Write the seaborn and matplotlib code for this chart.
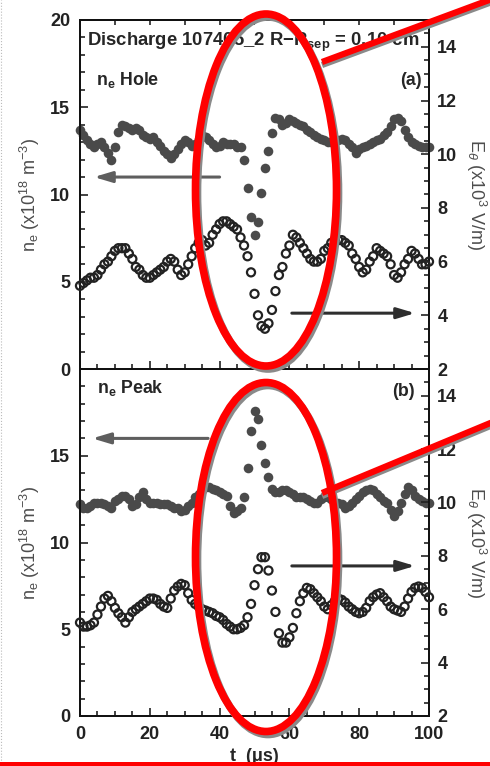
import matplotlib
matplotlib.use("Agg")
import matplotlib.pyplot as plt
import seaborn as sns
from matplotlib.patches import Ellipse, Rectangle
from matplotlib.lines import Line2D
from matplotlib.ticker import MultipleLocator

# ---- data: time base and the two probe signals for each case ----
t_us = list(range(101))

ne_hole = [13.7, 13.4, 13.1, 12.9, 12.7, 12.9, 13.0, 12.7, 12.4, 12.0,
           12.7, 13.6, 14.0, 13.9, 13.8, 13.7, 13.8, 13.7, 13.4, 13.3,
           13.2, 13.3, 13.0, 12.8, 12.5, 12.3, 12.1, 12.3, 12.6, 12.9,
           13.1, 13.0, 12.8, 12.9, 13.2, 13.4, 13.3, 13.1, 12.9, 12.7,
           12.8, 13.0, 12.9, 12.9, 12.9, 12.7, 12.7, 12.0, 10.4, 8.7,
           7.7, 8.4, 10.1, 11.5, 12.5, 13.5, 14.4, 14.3, 14.0, 14.1,
           14.3, 14.2, 14.1, 14.0, 13.9, 13.7, 13.6, 13.4, 13.3, 13.2,
           13.1, 13.0, 13.0, 13.1, 13.1, 13.2, 13.1, 12.9, 12.7, 12.4,
           12.6, 12.7, 12.8, 12.9, 13.0, 13.1, 13.2, 13.4, 13.6, 13.9,
           14.3, 14.4, 14.2, 13.7, 13.3, 13.0, 12.9, 12.8, 12.7, 12.7, 12.7]

e_theta_hole = [5.1, 5.2, 5.3, 5.4, 5.4, 5.5, 5.7, 5.9, 6.0, 6.2,
                6.4, 6.5, 6.5, 6.5, 6.3, 6.1, 5.8, 5.7, 5.5, 5.4,
                5.4, 5.5, 5.6, 5.7, 5.8, 6.0, 6.1, 6.0, 5.7, 5.5,
                5.6, 5.9, 6.2, 6.5, 6.7, 6.8, 6.6, 6.7, 7.0, 7.2,
                7.4, 7.5, 7.5, 7.4, 7.3, 7.2, 6.9, 6.6, 6.2, 5.6,
                4.8, 4.0, 3.6, 3.5, 3.7, 4.2, 4.9, 5.5, 5.8, 6.3,
                6.6, 7.0, 6.9, 6.7, 6.5, 6.3, 6.1, 6.0, 6.0, 6.1,
                6.4, 6.5, 6.7, 6.8, 6.8, 6.8, 6.7, 6.6, 6.3, 6.1,
                5.8, 5.6, 5.7, 6.0, 6.2, 6.5, 6.4, 6.3, 6.2, 5.9,
                5.5, 5.4, 5.6, 5.9, 6.1, 6.4, 6.3, 6.1, 5.9, 5.9, 6.0]

ne_peak = [12.2, 12.0, 12.0, 12.1, 12.3, 12.3, 12.3, 12.2, 12.1, 12.0,
           12.4, 12.5, 12.7, 12.7, 12.5, 12.1, 12.2, 12.6, 12.9, 12.5,
           12.3, 12.3, 12.3, 12.2, 12.2, 12.2, 12.1, 12.0, 12.0, 11.8,
           11.9, 12.1, 12.3, 12.6, 12.8, 13.0, 13.2, 13.2, 13.1, 13.0,
           12.9, 12.8, 12.7, 12.1, 11.7, 11.8, 12.0, 12.6, 14.3, 16.4,
           17.6, 17.1, 15.6, 14.6, 13.8, 13.1, 12.9, 12.9, 13.0, 13.0,
           12.9, 12.8, 12.6, 12.6, 12.6, 12.5, 12.4, 12.3, 12.3, 12.5,
           12.6, 12.6, 12.5, 12.3, 12.3, 12.2, 12.0, 12.1, 12.3, 12.5,
           12.7, 12.9, 13.0, 13.1, 13.0, 12.8, 12.6, 12.4, 12.3, 11.9,
           11.5, 11.8, 12.3, 12.8, 13.2, 13.0, 12.7, 12.5, 12.4, 12.3, 12.3]

e_theta_peak = [5.5, 5.35, 5.35, 5.4, 5.5, 5.8, 6.1, 6.4, 6.5, 6.3,
                6.05, 5.85, 5.7, 5.5, 5.7, 5.9, 6.0, 6.1, 6.2, 6.3,
                6.4, 6.4, 6.35, 6.2, 6.1, 6.05, 6.4, 6.7, 6.85, 6.95,
                6.9, 6.6, 6.35, 6.2, 6.1, 6.0, 5.95, 5.9, 5.85, 5.75,
                5.7, 5.6, 5.45, 5.35, 5.25, 5.25, 5.3, 5.4, 5.7, 6.2,
                6.9, 7.5, 7.95, 7.95, 7.45, 6.7, 5.9, 5.1, 4.75, 4.75,
                4.95, 5.3, 5.85, 6.3, 6.6, 6.8, 6.75, 6.6, 6.45, 6.3,
                6.1, 6.0, 6.15, 6.3, 6.4, 6.35, 6.25, 6.1, 6.0, 5.9,
                5.85, 5.9, 6.05, 6.3, 6.45, 6.55, 6.6, 6.45, 6.3, 6.1,
                6.0, 5.95, 5.9, 6.1, 6.4, 6.65, 6.8, 6.85, 6.8, 6.65, 6.45]

x_ticks = [0, 20, 40, 60, 80, 100]
ne_ticks_top = [0, 5, 10, 15, 20]
ne_ticks_bottom = [0, 5, 10, 15]
e_ticks = [2, 4, 6, 8, 10, 12, 14]

# ---- style ----
sns.set_style("ticks")
plt.rcParams["font.family"] = ["Liberation Sans", "DejaVu Sans"]
plt.rcParams["mathtext.fontset"] = "custom"
plt.rcParams["mathtext.rm"] = "Liberation Sans"
plt.rcParams["mathtext.it"] = "Liberation Sans:italic"
plt.rcParams["mathtext.bf"] = "Liberation Sans:bold"

W, H = 490, 766
fig = plt.figure(figsize=(W / 100, H / 100), dpi=100)


def fx(px):
    return px / W


def fy(py):
    return 1 - py / H


LEFT, RIGHT = 80, 429
ax_a = fig.add_axes([fx(LEFT), fy(369), fx(RIGHT) - fx(LEFT), fy(20) - fy(369)])
ax_b = fig.add_axes([fx(LEFT), fy(716), fx(RIGHT) - fx(LEFT), fy(369) - fy(716)],
                    sharex=ax_a)

FILL = "#4a4a4a"
OPEN = "#222222"
SPINE_LW = 1.3
TICK_FS = 13


def draw_panel(ax, ne, et, ne_ticks):
    axr = ax.twinx()
    sns.scatterplot(x=t_us, y=ne, ax=ax, color=FILL, s=48, linewidth=0,
                    clip_on=False, zorder=3)
    sns.scatterplot(x=t_us, y=et, ax=axr, color=OPEN, s=34, linewidth=1.6,
                    clip_on=False, zorder=3)
    pts = axr.collections[-1]
    pts.set_facecolor("none")
    pts.set_edgecolor(OPEN)

    ax.set_xlim(0, 100)
    ax.set_ylim(0, 20)
    axr.set_ylim(2, 15)

    ax.set_yticks(ne_ticks, labels=[str(v) for v in ne_ticks],
                  fontweight="bold", fontsize=TICK_FS)
    ax.yaxis.set_minor_locator(MultipleLocator(1))
    ax.set_xticks(x_ticks, labels=[str(v) for v in x_ticks],
                  fontweight="bold", fontsize=TICK_FS)
    ax.xaxis.set_minor_locator(MultipleLocator(5))
    ax.tick_params(which="both", direction="in", left=True, right=False,
                   top=False, bottom=True, width=1.2, pad=7, colors="#222")
    ax.tick_params(which="major", length=5.5)
    ax.tick_params(which="minor", length=3.5)

    axr.set_yticks(e_ticks, labels=[str(v) for v in e_ticks],
                   fontweight="bold", fontsize=TICK_FS)
    axr.yaxis.set_minor_locator(MultipleLocator(0.5))
    axr.tick_params(which="both", direction="in", right=True, left=False,
                    width=1.2, pad=6, colors="#222")
    axr.tick_params(which="major", length=5.5)
    axr.tick_params(which="minor", length=3.5)

    for a in (ax, axr):
        for sp in a.spines.values():
            sp.set_linewidth(SPINE_LW)
            sp.set_color("#111")
            sp.set_visible(True)

    ax.set_ylabel(r"n$_\mathrm{e}$ (x10$^\mathrm{18}$ m$^\mathrm{-3}$)",
                  fontsize=13, color="#4d4d4d", labelpad=6)
    axr.set_ylabel(r"E$_\theta$ (x10$^\mathrm{3}$ V/m)", fontsize=13,
                   color="#4d4d4d", rotation=270, va="bottom", labelpad=5)
    return axr


axr_a = draw_panel(ax_a, ne_hole, e_theta_hole, ne_ticks_top)
axr_b = draw_panel(ax_b, ne_peak, e_theta_peak, ne_ticks_bottom)

ax_a.tick_params(labelbottom=False)
ax_a.set_xlabel("")
top_ticks = ax_a.secondary_xaxis("top")
top_ticks.set_xticks(list(range(0, 101, 10)))
top_ticks.tick_params(direction="in", length=3.5, width=1.2, labeltop=False)
top_ticks.spines["top"].set_linewidth(SPINE_LW)

ax_b.set_xlabel(r"t  (μs)", fontsize=13, fontweight="bold", labelpad=4)

# ---- panel annotations ----
ax_a.text(0.02, 0.937, r"Discharge 107405_2 R−R$_\mathbf{sep}$ = 0.10 cm",
          transform=ax_a.transAxes, fontsize=13.3, fontweight="bold",
          va="center", ha="left")
ax_a.text(0.045, 0.828, r"n$_\mathbf{e}$ Hole", transform=ax_a.transAxes,
          fontsize=12.8, fontweight="bold", va="center", ha="left")
ax_a.text(0.98, 0.828, "(a)", transform=ax_a.transAxes, fontsize=12.8,
          fontweight="bold", va="center", ha="right")
ax_b.text(0.05, 0.945, r"n$_\mathbf{e}$ Peak", transform=ax_b.transAxes,
          fontsize=12.8, fontweight="bold", va="center", ha="left")
ax_b.text(0.96, 0.934, "(b)", transform=ax_b.transAxes, fontsize=12.8,
          fontweight="bold", va="center", ha="right")

# arrows pointing each series to its axis
arrow_style = "-|>,head_length=0.6,head_width=0.18"
ax_a.annotate("", xy=(4, 11.0), xytext=(40, 11.0),
              arrowprops=dict(arrowstyle=arrow_style, color="#5e5e5e", lw=2.2,
                              mutation_scale=18, shrinkA=0, shrinkB=0))
ax_a.annotate("", xy=(96, 3.2), xytext=(60.7, 3.2),
              arrowprops=dict(arrowstyle=arrow_style, color="#2e2e2e", lw=2.2,
                              mutation_scale=18, shrinkA=0, shrinkB=0))
ax_b.annotate("", xy=(3.5, 16.0), xytext=(36.7, 16.0),
              arrowprops=dict(arrowstyle=arrow_style, color="#5e5e5e", lw=2.2,
                              mutation_scale=18, shrinkA=0, shrinkB=0))
ax_b.annotate("", xy=(96, 8.65), xytext=(60.7, 8.65),
              arrowprops=dict(arrowstyle=arrow_style, color="#2e2e2e", lw=2.2,
                              mutation_scale=18, shrinkA=0, shrinkB=0))

# ---- red highlight overlay (ellipses + pointer lines) ----
RED = "#ff0000"
SHADOW = "#8a8a8a"


def ring(cx, cy, w, h):
    for dx, dy, col, z in ((2, 3, SHADOW, 20), (0, 0, RED, 21)):
        fig.add_artist(Ellipse((fx(cx + dx), fy(cy + dy)), w / W, h / H,
                               transform=fig.transFigure, fill=False,
                               edgecolor=col, lw=5.5, zorder=z, clip_on=False))


def pointer(x0, y0, x1, y1):
    for dy, col, z in ((3, SHADOW, 20), (0, RED, 21)):
        fig.add_artist(Line2D([fx(x0), fx(x1)], [fy(y0 + dy), fy(y1 + dy)],
                              transform=fig.transFigure, color=col, lw=4.5,
                              solid_capstyle="butt", zorder=z))


ring(266, 190, 141, 352)
ring(266, 557, 141, 349)
pointer(322, 62, 500, -4)
pointer(322, 493, 500, 419)

fig.add_artist(Rectangle((0, 0), 1, 4.5 / H, transform=fig.transFigure,
                         facecolor=RED, edgecolor="none", zorder=22))
fig.add_artist(Line2D([fx(1), fx(1)], [0, 1], transform=fig.transFigure,
                      color="#bbbbbb", lw=0.8, ls=":", zorder=1))

fig.savefig("out.png", dpi=100)
